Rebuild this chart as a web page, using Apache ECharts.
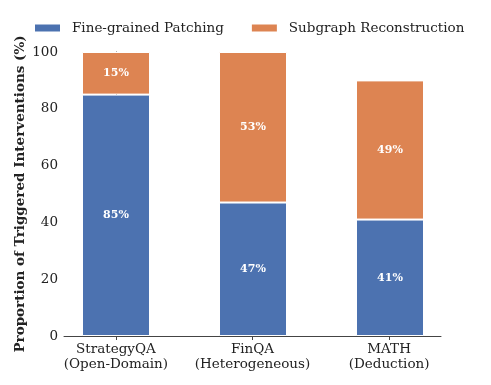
<!DOCTYPE html>
<html>
<head>
<meta charset="utf-8">
<script src="https://cdn.jsdelivr.net/npm/echarts@6/dist/echarts.min.js"></script>
<style>
  html, body { margin: 0; padding: 0; background: #fff; }
  #chart { width: 491px; height: 385px; }
</style>
</head>
<body>
<div id="chart"></div>
<script>
    // datasets on the x axis
    var categories = ['StrategyQA\n(Open-Domain)', 'FinQA\n(Heterogeneous)', 'MATH\n(Deduction)'];
    var patching = [85, 47, 41];
    var reconstruction = [15, 53, 49];
    var yTicks = [0, 20, 40, 60, 80, 100];

    var font = 'DejaVu Serif';
    var fs = 13.5;
    var myChart = echarts.init(document.getElementById('chart'));

    var barLabel = {
        show: true,
        position: 'inside',
        color: '#fff',
        fontFamily: font,
        fontWeight: 'bold',
        fontSize: 11,
        formatter: '{c}%'
    };

    // grid 0 = bars (one band per category, wider than the spines)
    // grid 1 = visible spines, ticks and labels (matplotlib style xlim -0.38..2.38)
    var options = {
        animation: false,
        legend: {
            top: 21,
            left: 33,
            padding: 0,
            itemGap: 26,
            itemWidth: 27,
            itemHeight: 9,
            icon: 'rect',
            textStyle: { fontFamily: font, fontSize: fs, color: '#222', padding: [0, 0, 0, 6] },
            data: ['Fine-grained Patching', 'Subgraph Reconstruction']
        },
        grid: [
            { left: 47.5, width: 411, top: 52, bottom: 49 },
            { left: 64, right: 50, top: 52, bottom: 49 }
        ],
        xAxis: [
            {
                type: 'category',
                gridIndex: 0,
                data: categories,
                show: false
            },
            {
                type: 'value',
                gridIndex: 1,
                min: -0.38,
                max: 2.38,
                splitLine: { show: false },
                axisLine: { show: true, lineStyle: { color: '#444', width: 1 } },
                axisTick: { show: true, customValues: [0, 1, 2], length: 4, lineStyle: { color: '#444' } },
                axisLabel: {
                    customValues: [0, 1, 2],
                    fontFamily: font,
                    fontSize: fs,
                    color: '#222',
                    lineHeight: 15,
                    margin: 6,
                    formatter: function (v) { return categories[Math.round(v)]; }
                }
            }
        ],
        yAxis: [
            {
                type: 'value',
                gridIndex: 0,
                min: 0,
                max: 100,
                show: false
            },
            {
                type: 'value',
                gridIndex: 1,
                min: 0,
                max: 100,
                interval: 20,
                name: 'Proportion of Triggered Interventions (%)',
                nameLocation: 'middle',
                nameGap: 37,
                nameMoveOverlap: false,
                nameTextStyle: { fontFamily: font, fontSize: fs, fontWeight: 'bold', color: '#222' },
                splitLine: { show: false },
                axisLine: { show: true, lineStyle: { color: '#444', width: 1 } },
                axisTick: { show: true, length: 4, lineStyle: { color: '#444' } },
                axisLabel: {
                    fontFamily: font,
                    fontSize: fs,
                    color: '#222',
                    margin: 6,
                    formatter: function (v) { return yTicks.indexOf(v) >= 0 ? String(v) : ''; }
                }
            }
        ],
        series: [
            {
                name: 'Fine-grained Patching',
                type: 'bar',
                xAxisIndex: 0,
                yAxisIndex: 0,
                stack: 'total',
                barWidth: 68,
                itemStyle: { color: '#4C72B0', borderColor: '#fff', borderWidth: 1 },
                label: barLabel,
                data: patching
            },
            {
                name: 'Subgraph Reconstruction',
                type: 'bar',
                xAxisIndex: 0,
                yAxisIndex: 0,
                stack: 'total',
                barWidth: 68,
                itemStyle: { color: '#DD8452', borderColor: '#fff', borderWidth: 1 },
                label: barLabel,
                data: reconstruction
            }
        ]
    };
    myChart.setOption(options);
</script>
</body>
</html>
